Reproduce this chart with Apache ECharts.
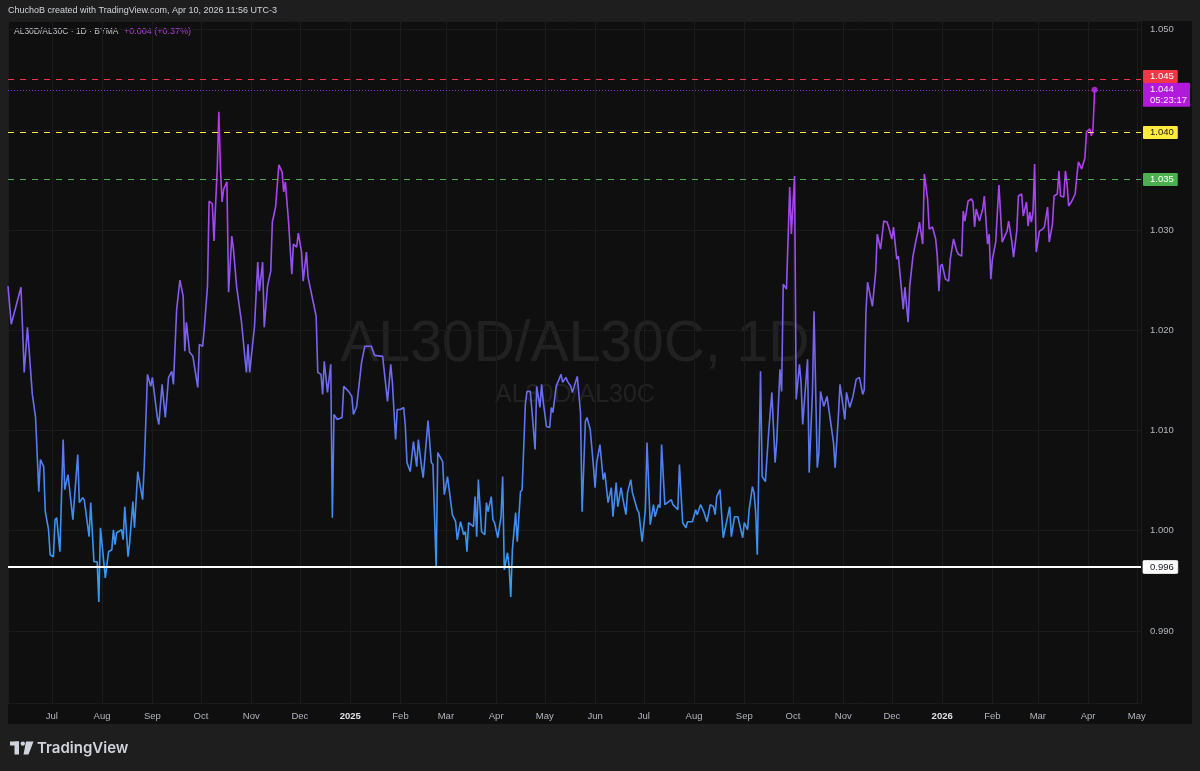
<!DOCTYPE html>
<html><head><meta charset="utf-8">
<script src="https://cdn.jsdelivr.net/npm/echarts@6/dist/echarts.min.js"></script>
<style>html,body{margin:0;padding:0;background:#1e1e1e}#c{width:1200px;height:771px}</style>
</head><body><div id="c"></div>
<script>
// ---- data ----
const dates = [
'2024-06-04','2024-06-06','2024-06-12','2024-06-14','2024-06-16','2024-06-19','2024-06-21','2024-06-23','2024-06-24','2024-06-26','2024-06-27','2024-06-29','2024-06-30',
'2024-07-02','2024-07-03','2024-07-04','2024-07-06','2024-07-08','2024-07-09','2024-07-11','2024-07-14','2024-07-17','2024-07-18','2024-07-20','2024-07-21','2024-07-24','2024-07-25','2024-07-27','2024-07-29','2024-07-30','2024-07-31',
'2024-08-03','2024-08-05','2024-08-07','2024-08-08','2024-08-09','2024-08-10','2024-08-13','2024-08-14','2024-08-15','2024-08-17','2024-08-18','2024-08-20','2024-08-21','2024-08-23','2024-08-26','2024-08-27','2024-08-29','2024-08-31',
'2024-09-01','2024-09-04','2024-09-05','2024-09-07','2024-09-09','2024-09-11','2024-09-13','2024-09-14','2024-09-16','2024-09-18','2024-09-20','2024-09-21','2024-09-22','2024-09-24','2024-09-26','2024-09-29','2024-09-30',
'2024-10-02','2024-10-03','2024-10-05','2024-10-06','2024-10-08','2024-10-09','2024-10-11','2024-10-12','2024-10-13','2024-10-14','2024-10-15','2024-10-17','2024-10-18','2024-10-20','2024-10-21','2024-10-23','2024-10-26','2024-10-28','2024-10-29','2024-10-30','2024-10-31',
'2024-11-03','2024-11-05','2024-11-06','2024-11-08','2024-11-09','2024-11-11','2024-11-13','2024-11-14','2024-11-16','2024-11-18','2024-11-20','2024-11-21','2024-11-22','2024-11-24','2024-11-26','2024-11-27','2024-11-29','2024-11-30',
'2024-12-02','2024-12-03','2024-12-05','2024-12-06','2024-12-07','2024-12-11','2024-12-12','2024-12-14','2024-12-15','2024-12-16','2024-12-18','2024-12-20','2024-12-21','2024-12-22','2024-12-24','2024-12-27','2024-12-28','2024-12-31',
'2025-01-02','2025-01-03','2025-01-05','2025-01-08','2025-01-10','2025-01-14','2025-01-16','2025-01-21','2025-01-24','2025-01-26','2025-01-27','2025-01-29','2025-01-30',
'2025-02-01','2025-02-03','2025-02-04','2025-02-05','2025-02-07','2025-02-09','2025-02-11','2025-02-12','2025-02-14','2025-02-15','2025-02-18','2025-02-20','2025-02-21','2025-02-23','2025-02-24','2025-02-27','2025-02-28',
'2025-03-02','2025-03-05','2025-03-07','2025-03-08','2025-03-10','2025-03-12','2025-03-13','2025-03-14','2025-03-15','2025-03-18','2025-03-19','2025-03-20','2025-03-21','2025-03-23','2025-03-25','2025-03-26','2025-03-27','2025-03-29','2025-03-30','2025-03-31',
'2025-04-02','2025-04-04','2025-04-05','2025-04-06','2025-04-08','2025-04-09','2025-04-10','2025-04-11','2025-04-13','2025-04-14','2025-04-16','2025-04-17','2025-04-19','2025-04-20','2025-04-22','2025-04-23','2025-04-25','2025-04-26','2025-04-28','2025-04-29','2025-04-30',
'2025-05-02','2025-05-04','2025-05-05','2025-05-06','2025-05-08','2025-05-09','2025-05-11','2025-05-12','2025-05-14','2025-05-15','2025-05-17','2025-05-18','2025-05-21','2025-05-23','2025-05-24','2025-05-26','2025-05-27','2025-05-29','2025-05-31',
'2025-06-01','2025-06-02','2025-06-04','2025-06-06','2025-06-07','2025-06-09','2025-06-11','2025-06-12','2025-06-14','2025-06-15','2025-06-17','2025-06-18','2025-06-20','2025-06-21','2025-06-23','2025-06-24','2025-06-27','2025-06-28','2025-06-30',
'2025-07-02','2025-07-03','2025-07-05','2025-07-07','2025-07-08','2025-07-10','2025-07-11','2025-07-12','2025-07-14','2025-07-15','2025-07-18','2025-07-19','2025-07-22','2025-07-23','2025-07-25','2025-07-27','2025-07-28','2025-07-31',
'2025-08-02','2025-08-03','2025-08-05','2025-08-07','2025-08-09','2025-08-11','2025-08-13','2025-08-14','2025-08-15','2025-08-17','2025-08-19','2025-08-21','2025-08-23','2025-08-24','2025-08-26','2025-08-28','2025-08-29','2025-08-31',
'2025-09-01','2025-09-03','2025-09-04','2025-09-06','2025-09-07','2025-09-08','2025-09-09','2025-09-11','2025-09-12','2025-09-14','2025-09-16','2025-09-18','2025-09-20','2025-09-21','2025-09-23','2025-09-24','2025-09-25','2025-09-27','2025-09-29','2025-09-30',
'2025-10-02','2025-10-03','2025-10-05','2025-10-06','2025-10-07','2025-10-10','2025-10-11','2025-10-13','2025-10-14','2025-10-16','2025-10-17','2025-10-18','2025-10-20','2025-10-22','2025-10-24','2025-10-26','2025-10-27','2025-10-29','2025-10-30',
'2025-11-02','2025-11-03','2025-11-05','2025-11-07','2025-11-09','2025-11-11','2025-11-13','2025-11-14','2025-11-15','2025-11-16','2025-11-19','2025-11-21','2025-11-22','2025-11-24','2025-11-26','2025-11-28','2025-11-29',
'2025-12-01','2025-12-02','2025-12-04','2025-12-05','2025-12-07','2025-12-08','2025-12-09','2025-12-11','2025-12-12','2025-12-14','2025-12-16','2025-12-17','2025-12-18','2025-12-20','2025-12-21','2025-12-23','2025-12-24','2025-12-26','2025-12-28','2025-12-29','2025-12-30','2025-12-31',
'2026-01-01','2026-01-03','2026-01-05','2026-01-06','2026-01-08','2026-01-10','2026-01-11','2026-01-13','2026-01-14','2026-01-15','2026-01-17','2026-01-19','2026-01-20','2026-01-21','2026-01-22','2026-01-24','2026-01-26','2026-01-27','2026-01-29','2026-01-30','2026-01-31',
'2026-02-01','2026-02-03','2026-02-05','2026-02-07','2026-02-08','2026-02-10','2026-02-11','2026-02-13','2026-02-14','2026-02-16','2026-02-17','2026-02-19','2026-02-20','2026-02-22','2026-02-23','2026-02-24','2026-02-25','2026-02-26','2026-02-27','2026-02-28',
'2026-03-02','2026-03-04','2026-03-05','2026-03-07','2026-03-08','2026-03-10','2026-03-11','2026-03-13','2026-03-14','2026-03-15','2026-03-17','2026-03-18','2026-03-19','2026-03-20','2026-03-22','2026-03-24','2026-03-25','2026-03-26','2026-03-28','2026-03-30','2026-03-31',
'2026-04-02','2026-04-03','2026-04-04','2026-04-05'
];
const values = [
1.0244,1.0206,1.0243,1.0158,1.0203,1.0136,1.0113,1.0039,1.0071,1.0064,1.0019,1.0001,0.9976,
0.9974,1.0011,1.0013,0.9979,1.0091,1.0041,1.0056,1.0011,1.0076,1.0028,1.0033,1.0031,0.9994,1.0028,0.9969,0.9969,0.9929,1.0003,
0.9953,0.9979,0.9981,1.0001,0.9986,0.9998,1.0001,0.9991,1.0024,0.9974,0.9988,1.0029,1.0003,1.0059,1.0031,1.0064,1.0156,1.0144,
1.0153,1.0114,1.0106,1.0146,1.0113,1.0153,1.0159,1.0146,1.0221,1.0250,1.0234,1.0179,1.0208,1.0178,1.0174,1.0143,1.0186,
1.0184,1.0201,1.0244,1.0329,1.0326,1.0289,1.0361,1.0418,1.0361,1.0328,1.0341,1.0348,1.0238,1.0294,1.0281,1.0243,1.0208,1.0174,1.0158,1.0186,1.0158,
1.0204,1.0268,1.0239,1.0268,1.0203,1.0244,1.0259,1.0308,1.0323,1.0365,1.0358,1.0338,1.0348,1.0308,1.0256,1.0286,1.0283,1.0297,
1.0278,1.0249,1.0278,1.0253,1.0253,1.0214,1.0158,1.0156,1.0136,1.0169,1.0138,1.0166,1.0013,1.0116,1.0111,1.0113,1.0144,1.0139,
1.0134,1.0116,1.0124,1.0168,1.0184,1.0184,1.0175,1.0174,1.0129,1.0166,1.0148,1.0091,1.0121,
1.0121,1.0123,1.0104,1.0068,1.0059,1.0089,1.0064,1.0091,1.0064,1.0053,1.0110,1.0068,1.0066,0.9964,1.0078,1.0069,1.0036,
1.0054,1.0016,1.0009,0.9991,1.0009,0.9996,0.9999,0.9979,1.0008,1.0004,1.0034,0.9994,1.0051,0.9999,0.9996,1.0028,1.0019,1.0034,1.0011,1.0008,
0.9993,1.0014,1.0054,0.9961,0.9978,0.9964,0.9934,0.9981,1.0018,0.9989,1.0039,1.0041,1.0126,1.0139,1.0139,1.0121,1.0081,1.0144,1.0123,1.0146,1.0129,
1.0104,1.0103,1.0123,1.0118,1.0144,1.0144,1.0156,1.0148,1.0153,1.0149,1.0144,1.0138,1.0154,1.0118,1.0019,1.0109,1.0113,1.0101,1.0064,
1.0043,1.0068,1.0086,1.0051,1.0058,1.0028,1.0043,1.0014,1.0048,1.0024,1.0043,1.0033,1.0016,1.0038,1.0051,1.0038,1.0021,1.0018,0.9989,
1.0021,1.0088,1.0006,1.0026,1.0014,1.0026,1.0023,1.0086,1.0026,1.0026,1.0031,1.0026,1.0021,1.0066,1.0008,1.0003,1.0009,1.0009,
1.0021,1.0016,1.0026,1.0019,1.0009,1.0026,1.0024,1.0016,1.0034,1.0041,0.9993,1.0008,1.0024,0.9994,1.0014,1.0014,1.0013,0.9993,
1.0008,1.0001,1.0021,1.0044,1.0038,1.0019,0.9976,1.0159,1.0054,1.0049,1.0098,1.0138,1.0068,1.0089,1.0161,1.0139,1.0246,1.0241,1.0343,1.0296,
1.0354,1.0131,1.0166,1.0148,1.0106,1.0171,1.0058,1.0138,1.0219,1.0063,1.0078,1.0139,1.0124,1.0134,1.0111,1.0088,1.0063,1.0114,1.0146,
1.0111,1.0138,1.0123,1.0134,1.0151,1.0153,1.0136,1.0141,1.0218,1.0248,1.0224,1.0258,1.0296,1.0281,1.0309,1.0308,1.0303,
1.0291,1.0303,1.0271,1.0274,1.0239,1.0221,1.0243,1.0208,1.0244,1.0274,1.0291,1.0298,1.0308,1.0286,1.0356,1.0331,1.0301,1.0303,1.0291,1.0274,1.0239,1.0264,
1.0266,1.0251,1.0249,1.0271,1.0291,1.0279,1.0276,1.0274,1.0319,1.0309,1.0329,1.0331,1.0328,1.0303,1.0321,1.0309,1.0321,1.0334,1.0286,1.0296,1.0251,
1.0271,1.0288,1.0345,1.0288,1.0289,1.0299,1.0309,1.0288,1.0273,1.0299,1.0334,1.0336,1.0314,1.0328,1.0304,1.0318,1.0308,1.0318,1.0366,1.0278,
1.0299,1.0301,1.0303,1.0323,1.0288,1.0306,1.0334,1.0336,1.0359,1.0334,1.0333,1.0359,1.0346,1.0324,1.0329,1.0336,1.0353,1.0368,1.0361,1.0372,1.0398,
1.0401,1.0394,1.0401,1.0440
];
const monthNames = ['Jan','Feb','Mar','Apr','May','Jun','Jul','Aug','Sep','Oct','Nov','Dec'];
const levelValues = [1.04502, 1.03973, 1.03505, 0.99638];
const levelLabels = ['1.045', '1.040', '1.035', '0.996'];
const lastPriceLabel = '1.044';
const countdownLabel = '05:23:17';
const headerText = 'ChuchoB created with TradingView.com, Apr 10, 2026 11:56 UTC-3';
const symbolText = 'AL30D/AL30C · 1D · BYMA';
const changeText = '+0.004 (+0.37%)';
const watermarkMain = 'AL30D/AL30C, 1D';
const watermarkSub = 'AL30D/AL30C';

const FF = '"Liberation Sans", Arial, sans-serif';
const FS = 9.5;

const chart = echarts.init(document.getElementById('c'), null, {renderer:'canvas'});
const lineData = dates.map((d,i)=>[d, values[i]]);
const lastIdx = dates.length-1;

const boxLabel = (txt, bg, fg, extra) => Object.assign({
  show:true, position:'end', distance:2, formatter:txt,
  backgroundColor:bg, color:fg, fontFamily:FF, fontSize:FS, lineHeight:11,
  padding:[1,4,1,7], borderRadius:1
}, extra||{});

const option = {
  backgroundColor:'#1e1e1e',
  animation:false,
  textStyle:{fontFamily:FF},
  graphic:[
    {type:'rect', z:-10, silent:true, shape:{x:8,y:21,width:1184,height:703}, style:{fill:'#0f0f0f'}},
    {type:'text', z:-5, silent:true, x:575, y:345, style:{text:watermarkMain, fontSize:57, fontFamily:FF, fill:'rgba(255,255,255,0.08)', align:'center', verticalAlign:'middle', textAlign:'center', textVerticalAlign:'middle'}},
    {type:'text', z:-5, silent:true, x:575, y:395, style:{text:watermarkSub, fontSize:25, fontFamily:FF, fill:'rgba(255,255,255,0.08)', align:'center', verticalAlign:'middle', textAlign:'center', textVerticalAlign:'middle'}},
    {type:'text', silent:true, x:8, y:10.5, style:{text:headerText, fontSize:9, fontFamily:FF, fill:'#d1d4dc', verticalAlign:'middle', textVerticalAlign:'middle'}},
    {type:'text', silent:true, x:14, y:32, style:{text:symbolText, fontSize:8.5, fontFamily:FF, fill:'#c3c6ce', verticalAlign:'middle', textVerticalAlign:'middle'}},
    {type:'text', silent:true, x:124, y:32, style:{text:changeText, fontSize:9, fontFamily:FF, fill:'#b43fdc', verticalAlign:'middle', textVerticalAlign:'middle'}},
    // TradingView logo
    {type:'rect', silent:true, shape:{x:10,y:741.5,width:9,height:4}, style:{fill:'#d1d4dc'}},
    {type:'rect', silent:true, shape:{x:14.5,y:741.5,width:4.5,height:13}, style:{fill:'#d1d4dc'}},
    {type:'circle', silent:true, shape:{cx:22.8,cy:743.6,r:2.2}, style:{fill:'#d1d4dc'}},
    {type:'polygon', silent:true, shape:{points:[[26,741.5],[33.5,741.5],[28.5,754.5],[23.5,754.5]]}, style:{fill:'#d1d4dc'}},
    {type:'text', silent:true, x:37, y:748, style:{text:'TradingView', fontSize:15, fontWeight:600, fontFamily:'Inter, "Liberation Sans", sans-serif', fill:'#d1d4dc', verticalAlign:'middle', textVerticalAlign:'middle'}}
  ],
  grid:{left:8, right:59, top:21, bottom:68, containLabel:false},
  xAxis:{
    type:'time', min:'2024-06-04', max:'2026-05-03 14:24',
    splitNumber:23, minInterval:27*86400000, maxInterval:32*86400000,
    axisLine:{show:false}, axisTick:{show:false},
    splitLine:{show:true, lineStyle:{color:'#1b1b1b', width:1}},
    axisLabel:{
      margin:8, color:'#b2b5be', fontSize:FS, fontFamily:FF, hideOverlap:false,
      showMinLabel:true, showMaxLabel:true,
      formatter:function(val){
        const d=new Date(val);
        if(d.getDate()!==1 || d.getHours()!==0 || d.getMinutes()!==0) return '';
        return d.getMonth()===0 ? '{y|'+d.getFullYear()+'}' : monthNames[d.getMonth()];
      },
      rich:{y:{color:'#e0e1e5', fontWeight:'bold', fontSize:FS, fontFamily:FF}}
    }
  },
  yAxis:{
    type:'value', position:'right', min:0.98281, max:1.05086, scale:true,
    splitNumber:7, minInterval:0.01, maxInterval:0.01,
    axisLine:{show:false}, axisTick:{show:false},
    splitLine:{show:true, lineStyle:{color:'#1b1b1b', width:1}},
    axisLabel:{
      margin:9, color:'#b2b5be', fontSize:FS, fontFamily:FF, showMinLabel:true, showMaxLabel:true,
      formatter:function(v){
        const k=Math.round(v*100);
        if(Math.abs(v*100-k)>1e-6) return '';
        if(k===104) return '';
        return (k/100).toFixed(3);
      }
    }
  },
  visualMap:{
    show:false, type:'continuous', seriesIndex:0, dimension:1,
    min:0.993, max:1.044,
    inRange:{color:['#2ca3f4','#3f8ef2','#5d76f0','#7a62f1','#9651f1','#b23ef1','#c42ef0']}
  },
  series:[
    {
      type:'line', data:lineData, showSymbol:false, symbol:'none', z:3,
      lineStyle:{width:1.6}, emphasis:{disabled:true},
      markLine:{
        silent:true, symbol:'none', animation:false, precision:5,
        data:[
          {yAxis:levelValues[3], lineStyle:{color:'#ffffff', type:'solid', width:2, opacity:1},
            label:boxLabel(levelLabels[3], '#ffffff', '#131722', {borderColor:'#bbbbbb', borderWidth:0.5})},
          {yAxis:levelValues[2], lineStyle:{color:'#4caf50', type:[6,6], width:1, opacity:1},
            label:boxLabel(levelLabels[2], '#4caf50', '#ffffff')},
          {yAxis:levelValues[1], lineStyle:{color:'#ffeb3b', type:[6,6], width:1, opacity:1},
            label:boxLabel(levelLabels[1], '#ffeb3b', '#131722')},
          {yAxis:values[lastIdx], lineStyle:{color:'#a22ee0', type:[1,2], width:1, opacity:0.9},
            label:boxLabel(lastPriceLabel+'\n'+countdownLabel, '#c31cf2', '#ffffff', {padding:[1,3,1,7], offset:[0,5]})},
          {yAxis:levelValues[0], lineStyle:{color:'#f23645', type:[6,6], width:1, opacity:1},
            label:boxLabel(levelLabels[0], '#f23645', '#ffffff', {offset:[0,-3]})}
        ]
      }
    },
    {
      type:'scatter', data:[[dates[lastIdx], values[lastIdx]]], symbol:'circle', symbolSize:6, z:4,
      itemStyle:{color:'#c42ef0'}, silent:true
    }
  ]
};
chart.setOption(option);
</script>
</body></html>
